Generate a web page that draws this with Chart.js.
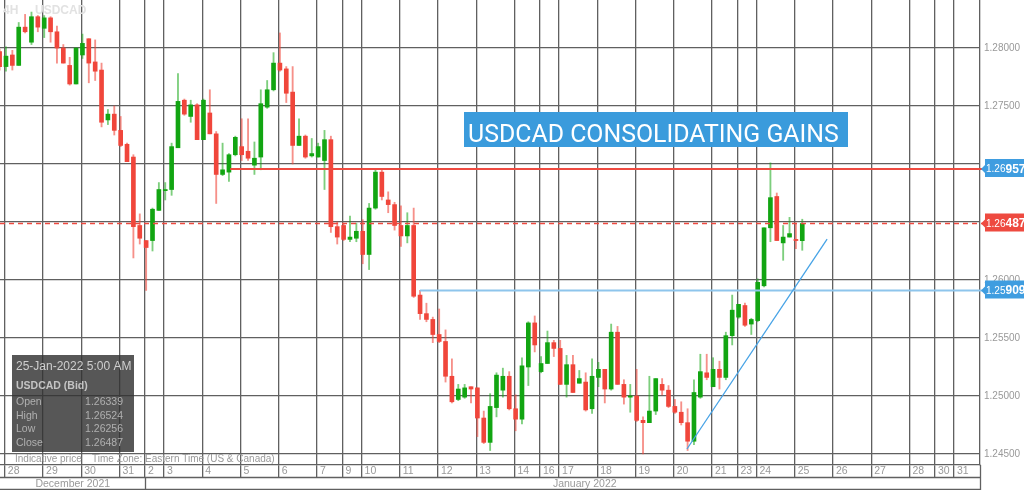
<!DOCTYPE html>
<html>
<head>
<meta charset="utf-8">
<title>USDCAD 4H</title>
<script src="https://cdn.jsdelivr.net/npm/chart.js@4.4.1/dist/chart.umd.min.js"></script>
<style>
  html, body { margin: 0; padding: 0; background: #fff; }
  #wrap { width: 1024px; height: 490px; position: relative; }
</style>
</head>
<body>
<div id="wrap"><canvas id="fxChart" width="1024" height="490"></canvas></div>
<script>
// USDCAD (Bid), 4H candles from the last bar of 27 Dec 2021 to 25 Jan 2022 5:00 AM
const firstCandle = -1;

const openPrices = [
  1.2797, 1.2784, 1.2794, 1.2785, 1.2818, 1.2805, 1.2827, 1.2817, 1.2826, 1.2814,
  1.2800, 1.2785, 1.2769, 1.2794, 1.2808, 1.2788, 1.2781, 1.2738, 1.2743, 1.2729,
  1.2717, 1.2706, 1.2647, 1.2634, 1.2634, 1.2660, 1.2677, 1.2678, 1.2714, 1.2755,
  1.2741, 1.2751, 1.2721, 1.2744, 1.2726, 1.2691, 1.2693, 1.2708, 1.2715, 1.2711,
  1.2699, 1.2706, 1.2749, 1.2764, 1.2787, 1.2782, 1.2762, 1.2716, 1.2724, 1.2707,
  1.2706, 1.2703, 1.2721, 1.2646, 1.2647, 1.2635, 1.2636, 1.2642, 1.2622, 1.2662,
  1.2693, 1.2669, 1.2665, 1.2647, 1.2638, 1.2647, 1.2587, 1.2571, 1.2566, 1.2553,
  1.2547, 1.2517, 1.2497, 1.2499, 1.2508, 1.2507, 1.2481, 1.2460, 1.2490, 1.2505,
  1.2517, 1.2489, 1.2480, 1.2525, 1.2563, 1.2521, 1.2528, 1.2546, 1.2541, 1.2510,
  1.2527, 1.2511, 1.2512, 1.2489, 1.2516, 1.2523, 1.2506, 1.2555, 1.2510, 1.2499,
  1.2500, 1.2479, 1.2477, 1.2487, 1.2510, 1.2505, 1.2491, 1.2486, 1.2477, 1.2461,
  1.2499, 1.2520, 1.2508, 1.2523, 1.2516, 1.2552, 1.2568, 1.2578, 1.2562, 1.2565,
  1.2595, 1.2645, 1.2672, 1.2632, 1.2637, 1.2635, 1.26339
];
const highPrices = [
  1.2799, 1.2801, 1.2798, 1.2822, 1.2829, 1.2831, 1.2828, 1.2828, 1.2827, 1.2819,
  1.2803, 1.2792, 1.2800, 1.2812, 1.2808, 1.2807, 1.2787, 1.2747, 1.2750, 1.2741,
  1.2718, 1.2708, 1.2657, 1.2634, 1.2662, 1.2684, 1.2684, 1.2718, 1.2778, 1.2756,
  1.2755, 1.2752, 1.2756, 1.2764, 1.2728, 1.2718, 1.2709, 1.2724, 1.2739, 1.2739,
  1.2719, 1.2764, 1.2772, 1.2796, 1.2813, 1.2784, 1.2784, 1.2739, 1.2725, 1.2722,
  1.2718, 1.2729, 1.2724, 1.2650, 1.2649, 1.2655, 1.2649, 1.2652, 1.2666, 1.2695,
  1.2695, 1.2676, 1.2667, 1.2664, 1.2658, 1.2662, 1.2591, 1.2580, 1.2568, 1.2575,
  1.2557, 1.2532, 1.2510, 1.2510, 1.2508, 1.2507, 1.2487, 1.2502, 1.2520, 1.2524,
  1.2521, 1.2501, 1.2533, 1.2564, 1.2569, 1.2534, 1.2556, 1.2548, 1.2548, 1.2535,
  1.2535, 1.2522, 1.2520, 1.2532, 1.2529, 1.2523, 1.2562, 1.2560, 1.2514, 1.2510,
  1.2523, 1.2482, 1.2517, 1.2515, 1.2515, 1.2509, 1.2497, 1.2495, 1.2489, 1.2514,
  1.2536, 1.2536, 1.2533, 1.2530, 1.2555, 1.2587, 1.2579, 1.2580, 1.2567, 1.2601,
  1.2645, 1.2701, 1.2675, 1.2647, 1.2654, 1.2649, 1.26524
];
const lowPrices = [
  1.2781, 1.2780, 1.2781, 1.2785, 1.2813, 1.2803, 1.2814, 1.2809, 1.2805, 1.2787,
  1.2787, 1.2768, 1.2769, 1.2791, 1.2770, 1.2772, 1.2732, 1.2734, 1.2725, 1.2715,
  1.2702, 1.2619, 1.2631, 1.2591, 1.2625, 1.2660, 1.2669, 1.2673, 1.2714, 1.2742,
  1.2736, 1.2721, 1.2721, 1.2726, 1.2666, 1.2690, 1.2685, 1.2707, 1.2703, 1.2703,
  1.2691, 1.2695, 1.2748, 1.2763, 1.2780, 1.2753, 1.2700, 1.2716, 1.2705, 1.2706,
  1.2706, 1.2678, 1.2641, 1.2631, 1.2634, 1.2633, 1.2633, 1.2614, 1.2609, 1.2661,
  1.2669, 1.2658, 1.2643, 1.2629, 1.2632, 1.2585, 1.2566, 1.2564, 1.2546, 1.2546,
  1.2512, 1.2494, 1.2496, 1.2498, 1.2494, 1.2465, 1.2459, 1.2453, 1.2482, 1.2499,
  1.2488, 1.2470, 1.2476, 1.2509, 1.2538, 1.2520, 1.2528, 1.2534, 1.2510, 1.2499,
  1.2503, 1.2511, 1.2487, 1.2485, 1.2508, 1.2494, 1.2505, 1.2510, 1.2493, 1.2486,
  1.2478, 1.2450, 1.2477, 1.2484, 1.2501, 1.2490, 1.2485, 1.2475, 1.2453, 1.2458,
  1.2498, 1.2514, 1.2508, 1.2506, 1.2514, 1.2544, 1.2567, 1.2560, 1.2553, 1.2564,
  1.2594, 1.2633, 1.2634, 1.2617, 1.2637, 1.2627, 1.26256
];
const closePrices = [
  1.2784, 1.2793, 1.2785, 1.2818, 1.2814, 1.2827, 1.2818, 1.2826, 1.2814, 1.2800,
  1.2787, 1.2769, 1.2800, 1.2804, 1.2787, 1.2780, 1.2736, 1.2743, 1.2729, 1.2716,
  1.2702, 1.2646, 1.2636, 1.2628, 1.2661, 1.2678, 1.2678, 1.2715, 1.2754, 1.2743,
  1.2751, 1.2721, 1.2755, 1.2726, 1.2691, 1.2695, 1.2708, 1.2723, 1.2708, 1.2705,
  1.2705, 1.2752, 1.2764, 1.2787, 1.2781, 1.2761, 1.2716, 1.2724, 1.2706, 1.2709,
  1.2715, 1.2721, 1.2646, 1.2637, 1.2635, 1.2637, 1.2642, 1.2622, 1.2662, 1.2693,
  1.2672, 1.2665, 1.2647, 1.2638, 1.2647, 1.2586, 1.2571, 1.2566, 1.2553, 1.2547,
  1.2517, 1.2495, 1.2506, 1.2507, 1.2506, 1.2481, 1.2460, 1.2491, 1.2518, 1.2517,
  1.2489, 1.2480, 1.2526, 1.2563, 1.2544, 1.2528, 1.2546, 1.2541, 1.2510, 1.2527,
  1.2503, 1.2515, 1.2488, 1.2517, 1.2523, 1.2506, 1.2555, 1.2510, 1.2499, 1.2500,
  1.2479, 1.2477, 1.2487, 1.2515, 1.2505, 1.2491, 1.2486, 1.2477, 1.2461, 1.2503,
  1.2521, 1.2516, 1.2523, 1.2516, 1.2552, 1.2574, 1.2579, 1.2561, 1.2566, 1.2598,
  1.2645, 1.2671, 1.2634, 1.2637, 1.2640, 1.2634, 1.26487
];

// day separators (candle index where each day starts) and their labels
const dayStarts = [0, 6, 12, 18, 22, 25, 31, 37, 43, 49, 53, 56, 62, 68, 74, 80, 84, 87, 93, 99,
  105, 111, 115, 118, 124, 130, 136, 142, 146, 149];
const dayLabels = ['28', '29', '30', '31', '2', '3', '4', '5', '6', '7', '9', '10', '11', '12', '13',
  '14', '16', '17', '18', '19', '20', '21', '23', '24', '25', '26', '27', '28', '30', '31'];
const monthLabels = ['December 2021', 'January 2022'];
const monthBreak = 22;

const priceTicks = [1.245, 1.25, 1.255, 1.26, 1.265, 1.27, 1.275, 1.28];

// drawn studies
const resistance = { from: 35.2, price: 1.26957 };
const support = { from: 65, price: 1.25909 };
const trendStart = { x: 106.9, y: 1.24543 };
const trendEnd = { x: 128.9, y: 1.26353 };
const titleText = 'USDCAD CONSOLIDATING GAINS';
const lastBarTime = '25-Jan-2022 5:00 AM';

const UP = '#12a512';
const DOWN = '#f0463b';
const UP_WICK = 'rgba(18,165,18,0.55)';
const DOWN_WICK = 'rgba(240,70,59,0.6)';
const GRID = '#606060';
const FONT = '"Liberation Sans", Arial, sans-serif';

Chart.defaults.font.family = FONT;

const candleIndex = openPrices.map((_, k) => firstCandle + k);
const isUp = k => closePrices[k] >= openPrices[k];
const lastPrice = closePrices[closePrices.length - 1];

function noPadding(s) {
    s.paddingTop = 0;
    s.paddingBottom = 0;
    s.paddingLeft = 0;
    s.paddingRight = 0;
}

function priceTag(ctx, yPix, value, color) {
    const s = value.toFixed(5);
    ctx.fillStyle = color;
    ctx.beginPath();
    ctx.moveTo(981, yPix);
    ctx.lineTo(985, yPix - 4);
    ctx.lineTo(985, yPix - 10);
    ctx.lineTo(1024, yPix - 10);
    ctx.lineTo(1024, yPix + 8);
    ctx.lineTo(985, yPix + 8);
    ctx.lineTo(985, yPix + 4);
    ctx.closePath();
    ctx.fill();
    ctx.fillStyle = '#fff';
    ctx.textAlign = 'left';
    ctx.textBaseline = 'middle';
    ctx.font = '10px ' + FONT;
    ctx.fillText(s.slice(0, 4), 986, yPix + 0.5);
    const w = ctx.measureText(s.slice(0, 4)).width;
    ctx.font = 'bold 12px ' + FONT;
    ctx.fillText(s.slice(4), 986 + w, yPix + 0.5);
}

const overlay = {
    id: 'overlay',
    afterDraw(chart) {
        const { ctx, chartArea: a, scales: { x, y } } = chart;
        ctx.save();

        // axis strips below the plot
        ctx.strokeStyle = GRID;
        ctx.lineWidth = 1.3;
        ctx.beginPath();
        ctx.moveTo(0, a.bottom + 12.5); ctx.lineTo(a.right, a.bottom + 12.5);
        ctx.moveTo(0, a.bottom + 24.5); ctx.lineTo(a.right, a.bottom + 24.5);
        ctx.moveTo(a.right + 0.5, a.bottom); ctx.lineTo(a.right + 0.5, 490);
        const mb = Math.round(x.getPixelForValue(monthBreak - 0.18)) + 0.5;
        ctx.moveTo(mb, a.bottom + 12); ctx.lineTo(mb, a.bottom + 25);
        ctx.stroke();

        ctx.fillStyle = '#999';
        ctx.font = '10.5px ' + FONT;
        ctx.textAlign = 'center';
        ctx.textBaseline = 'middle';
        ctx.fillText(monthLabels[0], mb / 2, a.bottom + 19);
        ctx.fillText(monthLabels[1], (mb + 1024) / 2, a.bottom + 19);

        ctx.textAlign = 'left';
        ctx.font = '10px ' + FONT;
        ctx.fillText('Indicative price', 15, 459);
        ctx.fillText('Time Zone: Eastern Time (US & Canada)', 92, 459);

        // clip studies to the plot + price column
        ctx.beginPath();
        ctx.rect(0, a.top, 1024, a.bottom - a.top);
        ctx.clip();

        // resistance
        const yr = y.getPixelForValue(resistance.price);
        ctx.strokeStyle = '#ee4a40';
        ctx.lineWidth = 2;
        ctx.beginPath();
        ctx.moveTo(x.getPixelForValue(resistance.from), yr);
        ctx.lineTo(1024, yr);
        ctx.stroke();

        // last price
        const yl = y.getPixelForValue(lastPrice);
        ctx.lineWidth = 1.5;
        ctx.setLineDash([5, 4]);
        ctx.beginPath();
        ctx.moveTo(0, yl);
        ctx.lineTo(1024, yl);
        ctx.stroke();
        ctx.setLineDash([]);

        // support
        const ys = y.getPixelForValue(support.price);
        ctx.strokeStyle = '#8ec5ec';
        ctx.lineWidth = 2;
        ctx.beginPath();
        ctx.moveTo(x.getPixelForValue(support.from), ys);
        ctx.lineTo(1024, ys);
        ctx.stroke();

        // trend line
        ctx.strokeStyle = '#47a3e6';
        ctx.lineWidth = 1.3;
        ctx.beginPath();
        ctx.moveTo(x.getPixelForValue(trendStart.x), y.getPixelForValue(trendStart.y));
        ctx.lineTo(x.getPixelForValue(trendEnd.x), y.getPixelForValue(trendEnd.y));
        ctx.stroke();

        // symbol watermark
        ctx.fillStyle = '#e2e2e2';
        ctx.font = 'bold 12px ' + FONT;
        ctx.textBaseline = 'middle';
        ctx.fillText('4H', 3, 11);
        ctx.fillText('USDCAD', 35, 11);

        // headline
        ctx.fillStyle = '#3a9bdc';
        ctx.fillRect(464, 112, 384, 35);
        ctx.fillStyle = '#fff';
        ctx.font = '25px Roboto';
        const tw = ctx.measureText(titleText).width;
        const fs = 25 * 371 / tw;
        ctx.font = fs.toFixed(2) + 'px Roboto';
        ctx.textBaseline = 'alphabetic';
        ctx.fillText(titleText, 468, 141.5);

        // info box for the last bar
        const k = closePrices.length - 1;
        ctx.fillStyle = 'rgba(50,50,50,0.82)';
        ctx.fillRect(12, 355, 122, 97);
        ctx.textBaseline = 'middle';
        ctx.fillStyle = '#cfcfcf';
        ctx.font = '12px ' + FONT;
        ctx.fillText(lastBarTime, 16, 367);
        ctx.fillStyle = '#c4c4c4';
        ctx.font = 'bold 10.5px ' + FONT;
        ctx.fillText('USDCAD (Bid)', 16, 386);
        const rows = [['Open', openPrices[k]], ['High', highPrices[k]], ['Low', lowPrices[k]], ['Close', closePrices[k]]];
        ctx.font = '10.5px ' + FONT;
        ctx.fillStyle = '#b0b0b0';
        rows.forEach((r, i) => {
            const ry = 402.5 + i * 13.4;
            ctx.textAlign = 'left';
            ctx.fillText(r[0], 16, ry);
            ctx.textAlign = 'right';
            ctx.fillText(r[1].toFixed(5), 123, ry);
        });
        ctx.restore();

        // price tags on the axis
        ctx.save();
        priceTag(ctx, yr, resistance.price, '#3f9de0');
        priceTag(ctx, yl, lastPrice, '#ee4a40');
        priceTag(ctx, ys, support.price, '#3f9de0');
        ctx.restore();
    }
};

new Chart(document.getElementById('fxChart').getContext('2d'), {
    type: 'bar',
    data: {
        datasets: [{
            label: 'body',
            data: candleIndex.map((x, k) => ({ x: x, y: [openPrices[k], closePrices[k]] })),
            backgroundColor: c => isUp(c.dataIndex) ? UP : DOWN,
            barThickness: 4,
            minBarLength: 1,
            grouped: false,
            order: 0
        }, {
            label: 'wick',
            data: candleIndex.map((x, k) => ({ x: x, y: [lowPrices[k], highPrices[k]] })),
            backgroundColor: c => isUp(c.dataIndex) ? UP_WICK : DOWN_WICK,
            barThickness: 1.2,
            minBarLength: 1,
            grouped: false,
            order: 1
        }]
    },
    options: {
        responsive: false,
        animation: false,
        layout: { padding: 0, autoPadding: false },
        plugins: {
            legend: { display: false },
            tooltip: { enabled: false }
        },
        scales: {
            x: {
                type: 'linear',
                min: -0.94,
                max: 152.9,
                offset: false,
                grid: { color: GRID, lineWidth: 1.3, tickLength: 12, offset: false, tickColor: GRID },
                border: { color: GRID, width: 1.3 },
                afterBuildTicks: s => { s.ticks = dayStarts.map(v => ({ value: v - 0.18 })); },
                afterFit: s => { s.height = 25; noPadding(s); },
                ticks: {
                    autoSkip: false,
                    maxRotation: 0,
                    align: 'start',
                    padding: -12,
                    labelOffset: 3,
                    color: '#999',
                    font: { size: 10.5 },
                    callback: (v, i) => dayLabels[i]
                }
            },
            y: {
                position: 'right',
                min: 1.24405,
                max: 1.28414,
                grid: { color: GRID, lineWidth: 1.3, drawTicks: false },
                border: { color: GRID, width: 1.3 },
                afterBuildTicks: s => { s.ticks = priceTicks.map(v => ({ value: v })); },
                afterFit: s => { s.width = 44; noPadding(s); },
                ticks: {
                    padding: 4,
                    color: '#999',
                    font: { size: 10 },
                    callback: v => v.toFixed(5)
                }
            }
        }
    },
    plugins: [overlay]
});
</script>
</body>
</html>
